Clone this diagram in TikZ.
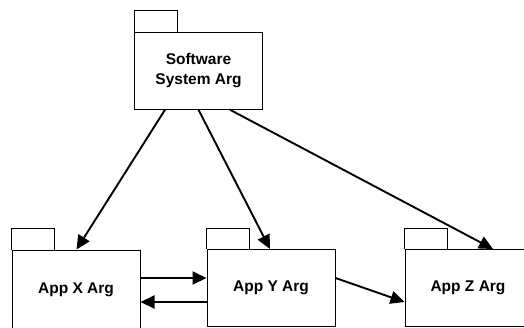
\documentclass[tikz,border=0pt]{standalone}
\usepackage{fontspec}
\setmainfont{Liberation Sans}
\usetikzlibrary{arrows.meta}
\begin{document}
\begin{tikzpicture}[x=1pt,y=-1pt,
  pkgfont/.style={font=\fontsize{15.5}{19.5}\selectfont\bfseries},
  pkgbody/.style={draw, line width=1pt, fill=white, minimum width=128pt, minimum height=77pt,
    inner sep=0pt, align=center, pkgfont},
  dep/.style={line width=1.9pt, -{Triangle[length=14pt,width=13pt]}}]
\useasboundingbox (0,0) rectangle (524,327);
\clip (0,0) rectangle (524,327);
% package bodies
\node[pkgbody] (sys) at (198.5,70.75) {Software\\System Arg};
\node[pkgbody, minimum height=80pt] (appx) at (76,290) {\raisebox{1pt}{App X Arg}};
\node[pkgbody] (appy) at (271,288) {App Y Arg};
\node[pkgbody, minimum width=200pt] (appz) at (505,288)
  {\hspace*{-74pt}App Z Arg};
% package tabs
\foreach \p in {sys,appx,appy,appz}
  \draw[line width=1pt] (\p.north west) -- ++(0,-21) -- ++(43,0) -- ++(0,21);
% dependencies
\draw[dep] ([xshift=-33.5pt]sys.south) -- ([xshift=0.5pt]appx.north);
\draw[dep] (sys.south) -- ([xshift=-1pt]appy.north);
\draw[dep] ([xshift=31.5pt]sys.south) -- ([xshift=-12pt]appz.north);
\draw[dep] ([yshift=12pt]appx.east) -- ([yshift=10pt]appy.west);
\draw[dep] ([yshift=-14pt]appy.west) -- ([yshift=-12pt]appx.east);
\draw[dep] ([yshift=10pt]appy.east) -- ([yshift=-14pt]appz.west);
\end{tikzpicture}
\end{document}
